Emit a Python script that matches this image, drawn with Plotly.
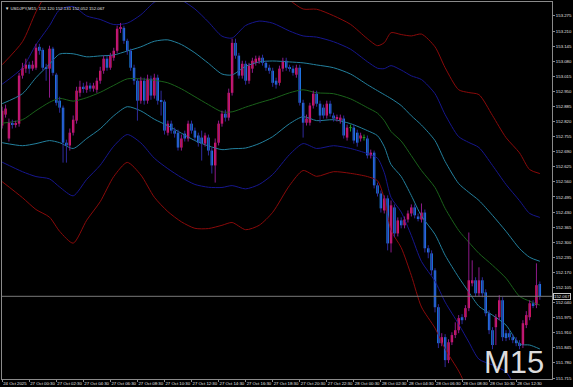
import plotly.graph_objects as go

# ---------------- data (USDJPY M15) ----------------
bar_open = [152.803, 152.850, 152.747, 152.811, 152.807, 152.811, 153.018, 153.048, 153.065, 153.048,
            153.052, 153.142, 153.129, 153.052, 153.048, 153.134, 153.022, 152.910, 152.880, 152.729,
            152.717, 152.772, 152.824, 152.944, 152.970, 152.957, 152.975, 152.962, 152.957, 152.996,
            153.039, 153.091, 153.052, 153.095, 153.125, 153.220, 153.224, 153.168, 153.125, 153.052,
            152.996, 152.910, 152.996, 152.910, 153.005, 152.932, 153.009, 152.910, 152.906, 152.772,
            152.811, 152.781, 152.772, 152.708, 152.768, 152.747, 152.811, 152.781, 152.760, 152.751,
            152.725, 152.751, 152.695, 152.631, 152.729, 152.811, 152.854, 152.837, 152.944, 153.159,
            153.104, 153.018, 153.069, 152.996, 153.048, 153.073, 153.082, 153.095, 153.073, 153.052,
            153.039, 152.996, 152.987, 153.048, 153.082, 153.052, 153.048, 153.022, 153.052, 152.901,
            152.815, 152.815, 152.889, 152.940, 152.897, 152.880, 152.846, 152.897, 152.846, 152.833,
            152.824, 152.833, 152.751, 152.794, 152.794, 152.772, 152.747, 152.751, 152.747, 152.674,
            152.686, 152.545, 152.510, 152.437, 152.489, 152.295, 152.450, 152.338, 152.394, 152.373,
            152.398, 152.424, 152.450, 152.411, 152.398, 152.428, 152.274, 152.252, 152.179, 152.020,
            151.865, 151.891, 151.792, 151.869, 151.900, 151.921, 151.977, 151.977, 152.016, 152.123,
            152.136, 152.080, 152.136, 152.084, 151.994, 151.921, 151.934, 151.977, 152.050, 151.908,
            151.908, 151.891, 151.878, 151.865, 151.857, 151.943, 151.977, 152.037, 152.029, 152.120]
bar_high = [152.884, 152.893, 152.833, 152.828, 152.824, 153.030, 153.073, 153.091, 153.078, 153.082,
            153.155, 153.155, 153.138, 153.069, 153.147, 153.142, 153.030, 152.927, 152.889, 152.742,
            152.790, 152.846, 152.970, 152.996, 152.987, 152.992, 152.987, 152.987, 153.009, 153.056,
            153.104, 153.104, 153.116, 153.138, 153.233, 153.245, 153.233, 153.177, 153.134, 153.065,
            153.005, 153.013, 153.009, 153.022, 153.018, 153.026, 153.022, 152.953, 152.914, 152.824,
            152.824, 152.794, 152.785, 152.764, 152.781, 152.824, 152.824, 152.794, 152.772, 152.781,
            152.772, 152.764, 152.708, 152.747, 152.824, 152.867, 152.871, 152.962, 153.177, 153.177,
            153.116, 153.082, 153.082, 153.073, 153.095, 153.104, 153.104, 153.108, 153.082, 153.065,
            153.052, 153.009, 153.061, 153.095, 153.095, 153.065, 153.061, 153.065, 153.065, 152.914,
            152.850, 152.901, 152.953, 152.953, 152.910, 152.893, 152.910, 152.910, 152.858, 152.850,
            152.850, 152.846, 152.807, 152.807, 152.807, 152.785, 152.772, 152.764, 152.760, 152.699,
            152.695, 152.557, 152.523, 152.502, 152.502, 152.480, 152.463, 152.407, 152.407, 152.411,
            152.437, 152.463, 152.463, 152.424, 152.467, 152.441, 152.287, 152.265, 152.188, 152.033,
            151.908, 151.904, 151.882, 151.912, 151.955, 151.986, 151.990, 152.029, 152.342, 152.222,
            152.149, 152.192, 152.149, 152.097, 152.007, 151.934, 151.990, 152.072, 152.063, 151.921,
            151.921, 151.904, 151.891, 151.878, 151.964, 152.003, 152.050, 152.050, 152.209, 152.131]
bar_low = [152.790, 152.837, 152.734, 152.790, 152.794, 152.798, 153.005, 153.030, 153.026, 153.039,
           153.043, 153.108, 153.039, 152.996, 152.923, 153.018, 152.889, 152.858, 152.643, 152.643,
           152.695, 152.760, 152.811, 152.927, 152.944, 152.944, 152.949, 152.949, 152.944, 152.983,
           153.026, 153.039, 153.043, 153.082, 153.116, 153.202, 153.155, 153.108, 153.039, 152.979,
           152.824, 152.897, 152.893, 152.897, 152.914, 152.919, 152.893, 152.846, 152.764, 152.760,
           152.768, 152.751, 152.695, 152.695, 152.734, 152.734, 152.768, 152.738, 152.712, 152.652,
           152.712, 152.674, 152.596, 152.557, 152.717, 152.798, 152.820, 152.824, 152.932, 153.091,
           153.005, 153.005, 152.979, 152.983, 153.030, 153.061, 153.069, 153.061, 153.039, 153.026,
           152.970, 152.962, 152.975, 153.035, 153.039, 153.035, 153.018, 153.009, 152.889, 152.751,
           152.803, 152.803, 152.876, 152.884, 152.815, 152.833, 152.833, 152.841, 152.820, 152.820,
           152.811, 152.747, 152.738, 152.777, 152.725, 152.712, 152.734, 152.738, 152.661, 152.661,
           152.532, 152.497, 152.428, 152.424, 152.265, 152.256, 152.321, 152.325, 152.360, 152.360,
           152.385, 152.411, 152.403, 152.390, 152.385, 152.256, 152.231, 152.158, 151.998, 151.844,
           151.852, 151.762, 151.779, 151.857, 151.887, 151.908, 151.947, 151.964, 152.003, 152.110,
           152.067, 152.067, 152.063, 151.981, 151.904, 151.839, 151.857, 151.964, 151.874, 151.874,
           151.878, 151.865, 151.852, 151.839, 151.844, 151.930, 151.964, 152.016, 152.016, 152.052]
bar_close = [152.867, 152.876, 152.815, 152.807, 152.811, 153.018, 153.052, 153.065, 153.048, 153.065,
             153.138, 153.125, 153.052, 153.048, 153.134, 153.030, 152.901, 152.880, 152.729, 152.717,
             152.772, 152.828, 152.953, 152.970, 152.962, 152.975, 152.962, 152.975, 152.996, 153.039,
             153.091, 153.052, 153.104, 153.125, 153.220, 153.224, 153.168, 153.125, 153.052, 152.996,
             152.910, 152.996, 152.910, 153.005, 152.932, 153.009, 152.910, 152.906, 152.781, 152.811,
             152.781, 152.768, 152.708, 152.747, 152.747, 152.811, 152.781, 152.751, 152.729, 152.725,
             152.760, 152.695, 152.631, 152.729, 152.811, 152.854, 152.837, 152.944, 153.159, 153.104,
             153.018, 153.069, 152.996, 153.061, 153.082, 153.091, 153.095, 153.073, 153.052, 153.039,
             152.987, 152.979, 153.048, 153.082, 153.052, 153.048, 153.030, 153.052, 152.901, 152.815,
             152.833, 152.889, 152.940, 152.897, 152.846, 152.846, 152.897, 152.854, 152.833, 152.837,
             152.837, 152.760, 152.794, 152.794, 152.738, 152.729, 152.760, 152.751, 152.674, 152.686,
             152.545, 152.510, 152.446, 152.489, 152.295, 152.459, 152.338, 152.394, 152.373, 152.398,
             152.424, 152.450, 152.416, 152.403, 152.428, 152.274, 152.256, 152.179, 152.020, 151.865,
             151.891, 151.792, 151.869, 151.900, 151.921, 151.973, 151.964, 152.016, 152.136, 152.136,
             152.080, 152.136, 152.080, 151.994, 151.921, 151.857, 151.977, 152.050, 151.891, 151.887,
             151.891, 151.878, 151.865, 151.857, 151.951, 151.986, 152.037, 152.029, 152.115, 152.067]

# band samples (bar index, middle line, one deviation)
band_x = [0, 6, 10, 14, 17, 21, 25, 29, 33, 37, 41, 45, 49, 53, 57, 61, 65, 68, 72, 76, 80,
          85, 89, 93, 98, 103, 108, 111, 113, 115, 118, 121, 124, 128, 131, 135, 138, 141, 145,
          149, 153, 156, 159]
band_mid = [152.813, 152.828, 152.867, 152.903, 152.920, 152.908, 152.923, 152.946, 152.976, 153.004,
            153.004, 152.998, 152.987, 152.961, 152.927, 152.893, 152.862, 152.862, 152.882, 152.901,
            152.918, 152.944, 152.957, 152.944, 152.940, 152.918, 152.880, 152.856, 152.824, 152.777,
            152.736, 152.673, 152.609, 152.536, 152.446, 152.351, 152.300, 152.252, 152.201, 152.145,
            152.067, 152.046, 152.029]
band_sd = [0.084, 0.112, 0.142, 0.165, 0.191, 0.204, 0.176, 0.157, 0.131, 0.120,
           0.138, 0.168, 0.185, 0.191, 0.189, 0.178, 0.163, 0.159, 0.176, 0.176,
           0.163, 0.133, 0.116, 0.120, 0.112, 0.107, 0.099, 0.097, 0.112, 0.142,
           0.153, 0.172, 0.196, 0.202, 0.202, 0.202, 0.215, 0.228, 0.215, 0.202,
           0.206, 0.189, 0.189]

time_tick_idx = list(range(0, 160, 8))
time_tick_labels = ["24 Oct 2025", "27 Oct 00:30", "27 Oct 02:30", "27 Oct 04:30", "27 Oct 06:30",
                    "27 Oct 08:30", "27 Oct 10:30", "27 Oct 12:30", "27 Oct 14:30", "27 Oct 16:30",
                    "27 Oct 18:30", "27 Oct 20:30", "27 Oct 22:30", "28 Oct 00:30", "28 Oct 02:30",
                    "28 Oct 04:30", "28 Oct 06:30", "28 Oct 08:30", "28 Oct 10:30", "28 Oct 12:30"]
price_ticks = [151.715, 151.780, 151.845, 151.910, 151.975, 152.040, 152.105, 152.170, 152.235,
               152.300, 152.365, 152.430, 152.495, 152.560, 152.625, 152.690, 152.755, 152.820,
               152.885, 152.950, 153.015, 153.080, 153.145, 153.210, 153.275]
price_tick_labels = ["%.3f" % v for v in price_ticks]
title_text = "USDJPY,M15  152.120 152.131 152.052 152.067"

# ---------------- styling ----------------
BULL = "#EC175E"
BEAR = "#1E90FF"
BULL_WICK = "#8E1A8A"
BEAR_WICK = "#2E2A9C"
DOJI = "#1FA01F"
TXT = "#E4E4E4"
AXC = "#8A8A8A"
FONT = "Liberation Sans"

fig = go.Figure()

# bands
for k, col in [(3, "#8A0A0A"), (2, "#16168E"), (1, "#23809E")]:
    up = [m + k * s for m, s in zip(band_mid, band_sd)]
    dn = [m - k * s for m, s in zip(band_mid, band_sd)]
    for ys in (up, dn):
        fig.add_trace(go.Scatter(x=band_x, y=ys, mode="lines",
                                 line=dict(color=col, width=1, shape="spline", smoothing=0.7),
                                 hoverinfo="skip", showlegend=False))
fig.add_trace(go.Scatter(x=band_x, y=band_mid, mode="lines",
                         line=dict(color="#1A621A", width=1, shape="spline", smoothing=0.7),
                         hoverinfo="skip", showlegend=False))

n = len(bar_close)
# wicks
groups = {"bull": ([], []), "bear": ([], []), "doji": ([], [])}
for i in range(n):
    o, h, l, c = bar_open[i], bar_high[i], bar_low[i], bar_close[i]
    g = "doji" if o == c else ("bull" if c > o else "bear")
    groups[g][0].extend([i, i, None])
    groups[g][1].extend([l, h, None])
for g, col in [("bull", BULL_WICK), ("bear", BEAR_WICK), ("doji", DOJI)]:
    fig.add_trace(go.Scatter(x=groups[g][0], y=groups[g][1], mode="lines",
                             line=dict(color=col, width=1), hoverinfo="skip", showlegend=False))

# bodies
bx, bbase, bh, bcol = [], [], [], []
dx, dy = [], []
for i in range(n):
    o, c = bar_open[i], bar_close[i]
    if o == c:
        dx.extend([i - 0.38, i + 0.38, None])
        dy.extend([o, o, None])
        continue
    bx.append(i)
    bbase.append(min(o, c))
    bh.append(abs(c - o))
    bcol.append(BULL if c > o else BEAR)
fig.add_trace(go.Bar(x=bx, y=bh, base=bbase, width=0.72, marker=dict(color=bcol, line=dict(width=0)),
                     hoverinfo="skip", showlegend=False))
fig.add_trace(go.Scatter(x=dx, y=dy, mode="lines", line=dict(color=DOJI, width=1),
                         hoverinfo="skip", showlegend=False))

last = bar_close[-1]
fig.add_shape(type="line", xref="paper", x0=0, x1=1, yref="y", y0=last, y1=last,
              line=dict(color="#7A7A7A", width=1))

fig.add_annotation(xref="paper", x=1, xanchor="left", xshift=1, yref="y", y=last,
                   text="%.3f" % last, showarrow=False, bgcolor="#000000",
                   bordercolor="#C8C8C8", borderwidth=1, borderpad=0,
                   font=dict(family=FONT, size=4.3, color=TXT))

fig.add_annotation(xref="paper", x=0, xanchor="left", xshift=1, yref="paper", y=1,
                   yanchor="top", yshift=-2, text="▼ " + title_text, showarrow=False,
                   font=dict(family=FONT, size=4.3, color=TXT))

fig.add_annotation(xref="x", x=142, xanchor="left", yref="paper", y=0, yanchor="bottom", yshift=-3,
                   text="M15", showarrow=False,
                   font=dict(family=FONT, size=31, color="#DCDCDC"))

fig.update_layout(
    width=573, height=387,
    margin=dict(l=1, r=19, t=1, b=8),
    paper_bgcolor="#000000", plot_bgcolor="#000000",
    showlegend=False, hovermode=False, barmode="overlay",
    xaxis=dict(range=[-0.05, 162.6], showgrid=False, zeroline=False,
               showline=True, linecolor=AXC, linewidth=1, mirror=True,
               tickmode="array", tickvals=time_tick_idx, ticktext=time_tick_labels,
               ticks="outside", ticklen=2, tickcolor=AXC, tickangle=0,
               ticklabelposition="outside right",
               tickfont=dict(family=FONT, size=4.3, color=TXT)),
    yaxis=dict(range=[151.7107, 153.3352], side="right", showgrid=False, zeroline=False,
               showline=True, linecolor=AXC, linewidth=1, mirror=True,
               tickmode="array", tickvals=price_ticks, ticktext=price_tick_labels,
               ticks="outside", ticklen=2, tickcolor=AXC,
               tickfont=dict(family=FONT, size=4.3, color=TXT)),
)

fig.write_html("out.html")
